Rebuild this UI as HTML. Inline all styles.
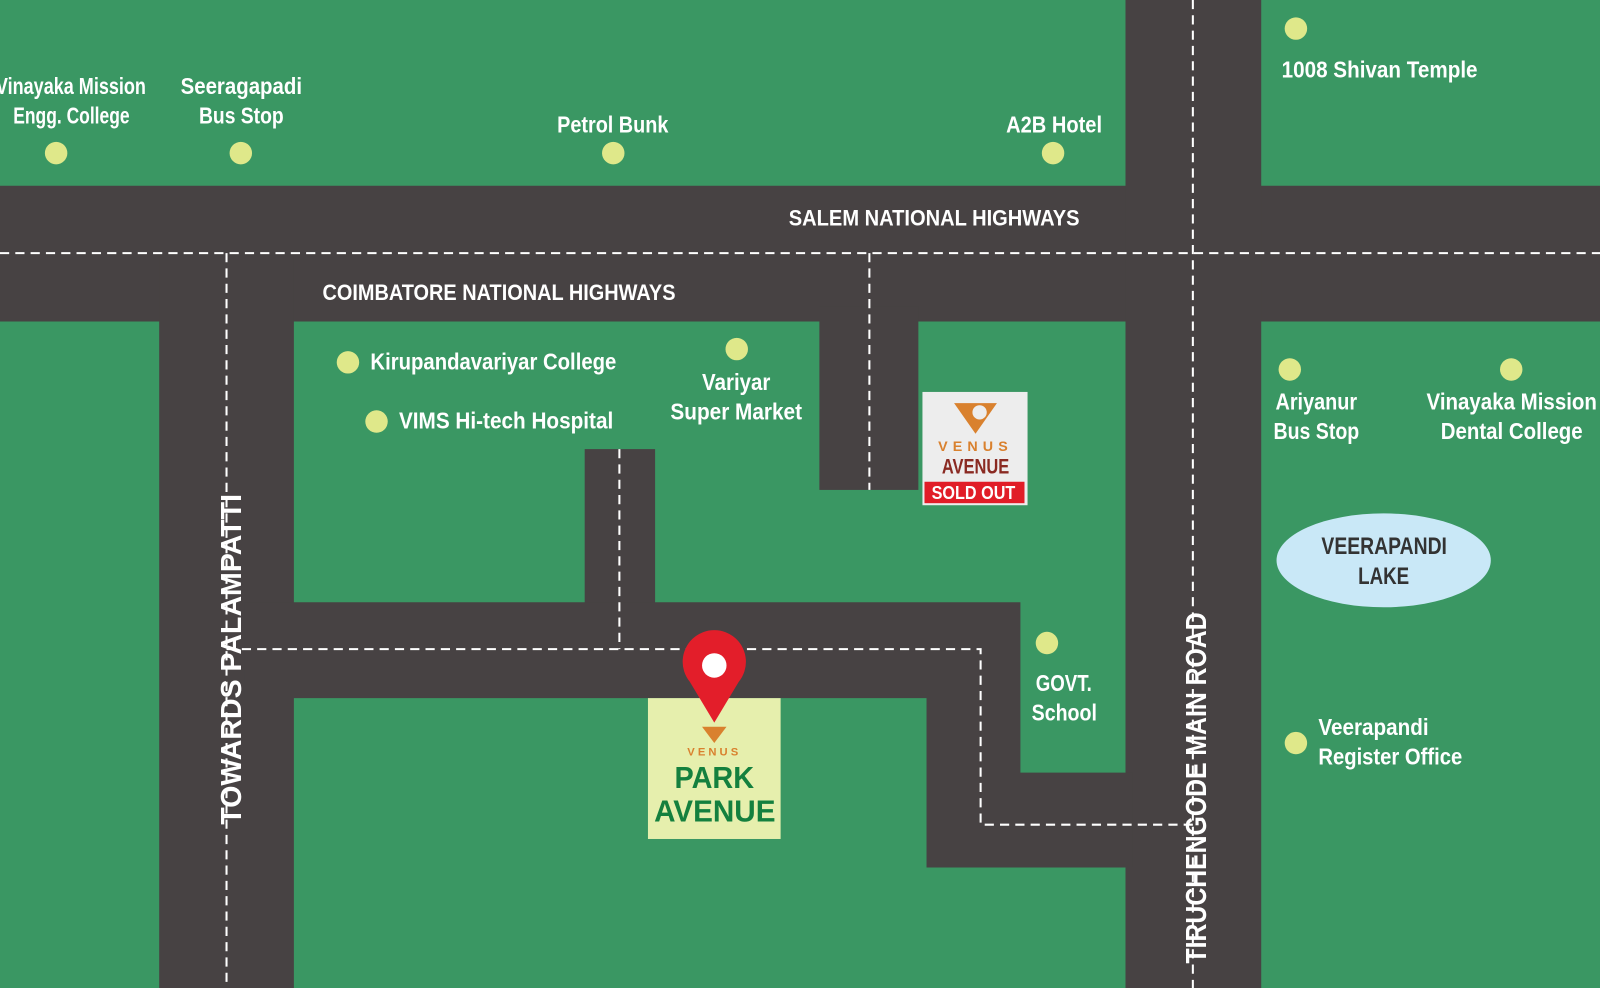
<!DOCTYPE html>
<html><head><meta charset="utf-8"><style>
html,body{margin:0;padding:0;background:#3a9763}
svg{display:block}
text{font-family:"Liberation Sans Narrow","Liberation Sans",sans-serif;font-weight:bold;fill:#fff}
</style></head><body>
<svg width="1600" height="988" viewBox="0 0 1568 968" preserveAspectRatio="none" xmlns="http://www.w3.org/2000/svg">
<rect width="1568" height="968" fill="#3a9763"/>
<g fill="#474243">
<rect x="0" y="182" width="1568" height="133"/>
<rect x="1103" y="0" width="133" height="968"/>
<rect x="156" y="250" width="132" height="718"/>
<rect x="803" y="300" width="97" height="180"/>
<rect x="573" y="440" width="69" height="160"/>
<polygon points="240,590 1000,590 1000,757 1110,757 1110,850 908,850 908,684 240,684"/>
</g>
<g stroke="#fff" stroke-width="2" stroke-dasharray="9,6" fill="none">
<line x1="0" y1="248" x2="1568" y2="248"/>
<line x1="1169" y1="0" x2="1169" y2="968"/>
<line x1="222" y1="248" x2="222" y2="968"/>
<line x1="852" y1="248" x2="852" y2="480"/>
<line x1="607" y1="440" x2="607" y2="636"/>
<polyline points="222,636 961,636 961,808 1169,808"/>
</g>
<g fill="#dfe88a">
<circle cx="55" cy="150" r="11"/><circle cx="236" cy="150" r="11"/><circle cx="601" cy="150" r="11"/><circle cx="1032" cy="150" r="11"/><circle cx="1270" cy="28" r="11"/>
<circle cx="341" cy="355" r="11"/><circle cx="369" cy="413" r="11"/><circle cx="722" cy="342" r="11"/>
<circle cx="1264" cy="362" r="11"/><circle cx="1481" cy="362" r="11"/><circle cx="1026" cy="630" r="11"/><circle cx="1270" cy="728" r="11"/>
</g>
<g font-size="23">
<text x="-4" y="92" textLength="147" lengthAdjust="spacingAndGlyphs">Vinayaka Mission</text>
<text x="13" y="121" textLength="114" lengthAdjust="spacingAndGlyphs">Engg. College</text>
<text x="177" y="92" textLength="119" lengthAdjust="spacingAndGlyphs">Seeragapadi</text>
<text x="195" y="121" textLength="83" lengthAdjust="spacingAndGlyphs">Bus Stop</text>
<text x="546" y="130" textLength="109" lengthAdjust="spacingAndGlyphs">Petrol Bunk</text>
<text x="986" y="130" textLength="94" lengthAdjust="spacingAndGlyphs">A2B Hotel</text>
<text x="1256" y="76" textLength="192" lengthAdjust="spacingAndGlyphs">1008 Shivan Temple</text>
<text x="773" y="221" font-size="22" textLength="285" lengthAdjust="spacingAndGlyphs">SALEM NATIONAL HIGHWAYS</text>
<text x="316" y="294" font-size="22" textLength="346" lengthAdjust="spacingAndGlyphs">COIMBATORE NATIONAL HIGHWAYS</text>
<text x="363" y="362" textLength="241" lengthAdjust="spacingAndGlyphs">Kirupandavariyar College</text>
<text x="391" y="420" textLength="210" lengthAdjust="spacingAndGlyphs">VIMS Hi-tech Hospital</text>
<text x="688" y="382" textLength="67" lengthAdjust="spacingAndGlyphs">Variyar</text>
<text x="657" y="411" textLength="129" lengthAdjust="spacingAndGlyphs">Super Market</text>
<text x="1250" y="401" textLength="80" lengthAdjust="spacingAndGlyphs">Ariyanur</text>
<text x="1248" y="430" textLength="84" lengthAdjust="spacingAndGlyphs">Bus Stop</text>
<text x="1398" y="401" textLength="167" lengthAdjust="spacingAndGlyphs">Vinayaka Mission</text>
<text x="1412" y="430" textLength="139" lengthAdjust="spacingAndGlyphs">Dental College</text>
<text x="1015" y="677" textLength="55" lengthAdjust="spacingAndGlyphs">GOVT.</text>
<text x="1011" y="706" textLength="64" lengthAdjust="spacingAndGlyphs">School</text>
<text x="1292" y="720" textLength="108" lengthAdjust="spacingAndGlyphs">Veerapandi</text>
<text x="1292" y="749" textLength="141" lengthAdjust="spacingAndGlyphs">Register Office</text>
</g>
<text transform="translate(236,808) rotate(-90)" font-size="28" textLength="324" lengthAdjust="spacingAndGlyphs">TOWARDS PALAMPATTI</text>
<text transform="translate(1182,944) rotate(-90)" font-size="28" textLength="344" lengthAdjust="spacingAndGlyphs">TIRUCHENGODE MAIN ROAD</text>
<ellipse cx="1356" cy="549" rx="105" ry="46" fill="#c9e8f7"/>
<text x="1295" y="543" font-size="24" textLength="123" lengthAdjust="spacingAndGlyphs" style="fill:#333">VEERAPANDI</text>
<text x="1331" y="572" font-size="24" textLength="50" lengthAdjust="spacingAndGlyphs" style="fill:#333">LAKE</text>
<rect x="904" y="384" width="103" height="111" fill="#ededed"/>
<polygon points="935,395 977,395 956,425" fill="#d9812e"/><circle cx="960" cy="404" r="7" fill="#ededed"/>
<text x="956" y="442" font-size="14" text-anchor="middle" letter-spacing="5" style="fill:#d9812e">VENUS</text>
<text x="923" y="464" font-size="21" textLength="66" lengthAdjust="spacingAndGlyphs" style="fill:#8a2a22">AVENUE</text>
<rect x="906" y="472" width="98" height="21" fill="#e11d27"/>
<text x="913" y="489" font-size="18" textLength="82" lengthAdjust="spacingAndGlyphs">SOLD OUT</text>
<rect x="635" y="684" width="130" height="138" fill="#e6efad"/>
<polygon points="688,712 712,712 700,728" fill="#d9812e"/>
<text x="700" y="740" font-size="11" text-anchor="middle" letter-spacing="3" style="fill:#d9812e">VENUS</text>
<text x="661" y="772" font-size="30" textLength="78" lengthAdjust="spacingAndGlyphs" style="fill:#14803e">PARK</text>
<text x="641" y="805" font-size="30" textLength="119" lengthAdjust="spacingAndGlyphs" style="fill:#14803e">AVENUE</text>
<path d="M700,708 L676,668 A31,31 0 1 1 724,668 Z" fill="#e31e2a"/>
<circle cx="700" cy="652" r="12" fill="#fff"/>
</svg>
</body></html>
